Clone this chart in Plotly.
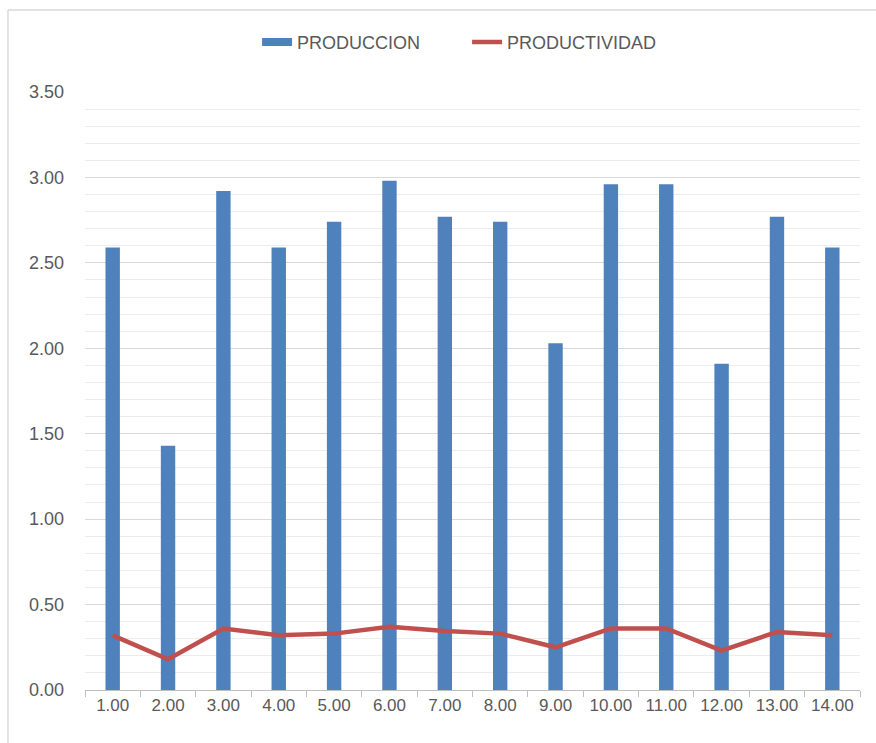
import plotly.graph_objects as go

categories = ["1.00", "2.00", "3.00", "4.00", "5.00", "6.00", "7.00",
              "8.00", "9.00", "10.00", "11.00", "12.00", "13.00", "14.00"]
produccion = [2.59, 1.43, 2.92, 2.59, 2.74, 2.98, 2.77, 2.74, 2.03, 2.96, 2.96, 1.91, 2.77, 2.59]
productividad = [0.32, 0.18, 0.36, 0.32, 0.33, 0.37, 0.345, 0.33, 0.25, 0.36, 0.36, 0.23, 0.34, 0.32]

font_family = "Liberation Sans, Arial, sans-serif"
blue = "#4f81bd"
red = "#c0504d"

fig = go.Figure()
fig.add_trace(go.Bar(x=categories, y=produccion, name="PRODUCCION", showlegend=False,
                     marker=dict(color=blue, line=dict(width=0)), width=0.26))
# legend entry for the bars drawn as a wide rectangle (like the original)
fig.add_trace(go.Scatter(x=[categories[0]], y=[None], name="PRODUCCION", mode="lines",
                         line=dict(color=blue, width=8), hoverinfo="skip"))
fig.add_trace(go.Scatter(x=categories, y=productividad, name="PRODUCTIVIDAD", mode="lines",
                         line=dict(color=red, width=4.5)))

fig.update_layout(
    width=876, height=743,
    margin=dict(l=85, r=16, t=92, b=53),
    paper_bgcolor="white", plot_bgcolor="white",
    font=dict(family=font_family, color="#595959", size=18),
    showlegend=True,
    legend=dict(orientation="h", x=0.493, xanchor="center", y=1.083, yanchor="middle",
                font=dict(size=18, color="#595959"), traceorder="normal",
                entrywidth=165, entrywidthmode="pixels"),
    xaxis=dict(type="category", showgrid=False, showline=True, linecolor="#bfbfbf", linewidth=1,
               ticks="outside", tickson="boundaries", ticklen=6, tickcolor="#bfbfbf",
               tickfont=dict(size=17, color="#595959"), zeroline=False),
    yaxis=dict(range=[0, 3.5], dtick=0.5, tickformat=".2f", showgrid=True, gridcolor="#d9d9d9",
               gridwidth=1, zeroline=False, showline=False, ticks="", ticklabelstandoff=20,
               tickfont=dict(size=18, color="#595959"),
               minor=dict(dtick=0.1, showgrid=True, gridcolor="#ececec", gridwidth=1)),
    shapes=[
        dict(type="line", xref="paper", yref="paper", x0=-0.0994, x1=1.03, y0=1.137, y1=1.137,
             line=dict(color="#d9d9d9", width=1.5)),
        dict(type="line", xref="paper", yref="paper", x0=-0.0994, x1=-0.0994, y0=-0.2, y1=1.137,
             line=dict(color="#d9d9d9", width=1.5)),
    ],
)

fig.write_html("out.html")
